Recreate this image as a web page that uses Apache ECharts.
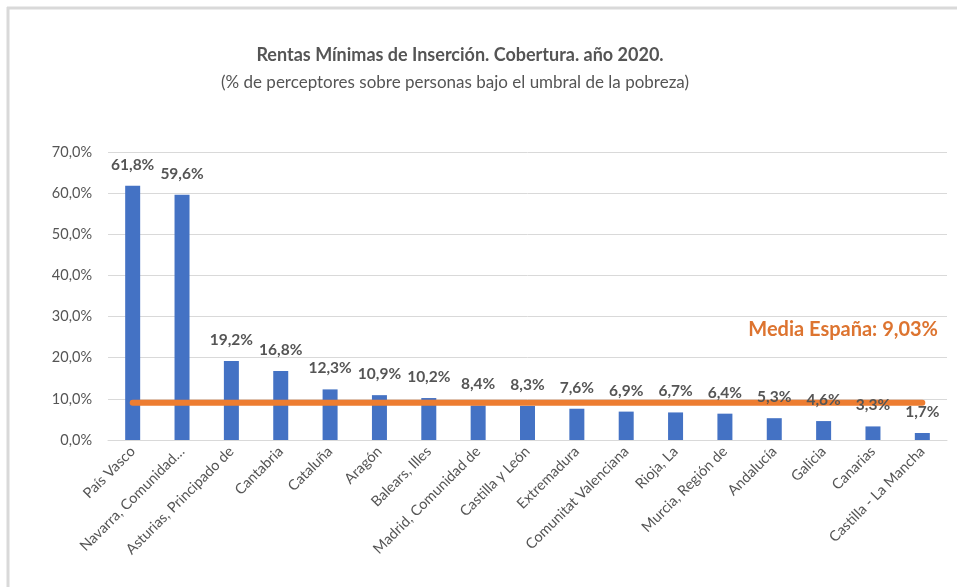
<!DOCTYPE html>
<html lang="es">
<head>
    <meta charset="UTF-8">
    <title>Rentas Mínimas de Inserción</title>
    <script src="https://cdn.jsdelivr.net/npm/echarts@6/dist/echarts.min.js"></script>
    <style>
        html, body { margin: 0; padding: 0; background: #fff; }
        #main { width: 957px; height: 587px; }
    </style>
</head>
<body>
<div id="main"></div>
<script>
    // categorías (comunidades autónomas)
    let regiones = ['País Vasco', 'Navarra, Comunidad…', 'Asturias, Principado de', 'Cantabria', 'Cataluña',
        'Aragón', 'Balears, Illes', 'Madrid, Comunidad de', 'Castilla y León', 'Extremadura',
        'Comunitat Valenciana', 'Rioja, La', 'Murcia, Región de', 'Andalucía', 'Galicia', 'Canarias',
        'Castilla - La Mancha'];
    // cobertura en %
    let cobertura = [61.8, 59.6, 19.2, 16.8, 12.3, 10.9, 10.2, 8.4, 8.3, 7.6, 6.9, 6.7, 6.4, 5.3, 4.6, 3.3, 1.7];
    // media de España
    let mediaEspana = 9.03;
    let mediaLinea = regiones.map(() => mediaEspana);
    // ticks eje y
    let yMin = 0, yMax = 70, yStep = 10;

    let gris = '#555555';
    let fmt = (v, d) => v.toFixed(d).replace('.', ',') + '%';

    let myChart = echarts.init(document.getElementById('main'), null, {renderer: 'canvas'});
    let option = {
        animation: false,
        textStyle: {fontFamily: 'Lato'},
        grid: {left: 108, right: 10, top: 152, bottom: 147},
        graphic: [
            // marco del gráfico
            {type: 'line', shape: {x1: 7, y1: 8, x2: 957, y2: 8}, style: {stroke: '#d9d9d9', lineWidth: 3}},
            {type: 'line', shape: {x1: 8, y1: 7, x2: 8, y2: 587}, style: {stroke: '#d9d9d9', lineWidth: 3}},
            {
                type: 'text', x: 460, y: 55,
                style: {
                    text: 'Rentas Mínimas de Inserción. Cobertura. año 2020.',
                    font: 'bold 18px Lato', fill: gris, align: 'center', verticalAlign: 'middle'
                }
            },
            {
                type: 'text', x: 455, y: 83,
                style: {
                    text: '(% de perceptores sobre personas bajo el umbral de la pobreza)',
                    font: '17px Lato', fill: gris, align: 'center', verticalAlign: 'middle'
                }
            },
            {
                type: 'text', x: 938, y: 330,
                style: {
                    text: 'Media España: ' + fmt(mediaEspana, 2),
                    font: 'bold 20px Lato', fill: '#DD7430', align: 'right', verticalAlign: 'middle'
                }
            }
        ],
        xAxis: {
            type: 'category',
            data: regiones,
            axisLine: {lineStyle: {color: '#d9d9d9', width: 1}},
            axisTick: {show: false},
            axisLabel: {
                rotate: 45, interval: 0, margin: 9,
                color: gris, fontSize: 14.5, fontFamily: 'Lato'
            }
        },
        yAxis: {
            type: 'value',
            min: yMin, max: yMax, interval: yStep,
            axisLine: {show: false},
            axisTick: {show: false},
            splitLine: {lineStyle: {color: '#d9d9d9', width: 1}},
            axisLabel: {
                margin: 16, color: gris, fontSize: 14.5, fontFamily: 'Lato',
                formatter: v => fmt(v, 1)
            }
        },
        series: [
            {
                type: 'bar', data: cobertura, barWidth: 15, z: 2,
                itemStyle: {color: '#4472C4'}
            },
            {
                type: 'line', data: mediaLinea, z: 3, symbol: 'none',
                lineStyle: {color: '#ED7D31', width: 6, cap: 'round'}
            },
            {
                // solo etiquetas, por encima de la línea media
                type: 'bar', data: cobertura, barWidth: 15, barGap: '-100%', z: 4,
                itemStyle: {color: 'rgba(0,0,0,0)'},
                label: {
                    show: true, position: 'top', distance: 13,
                    color: gris, fontSize: 15.5, fontWeight: 'bold', fontFamily: 'Lato',
                    formatter: p => fmt(p.value, 1)
                }
            }
        ]
    };
    myChart.setOption(option);
</script>
</body>
</html>
